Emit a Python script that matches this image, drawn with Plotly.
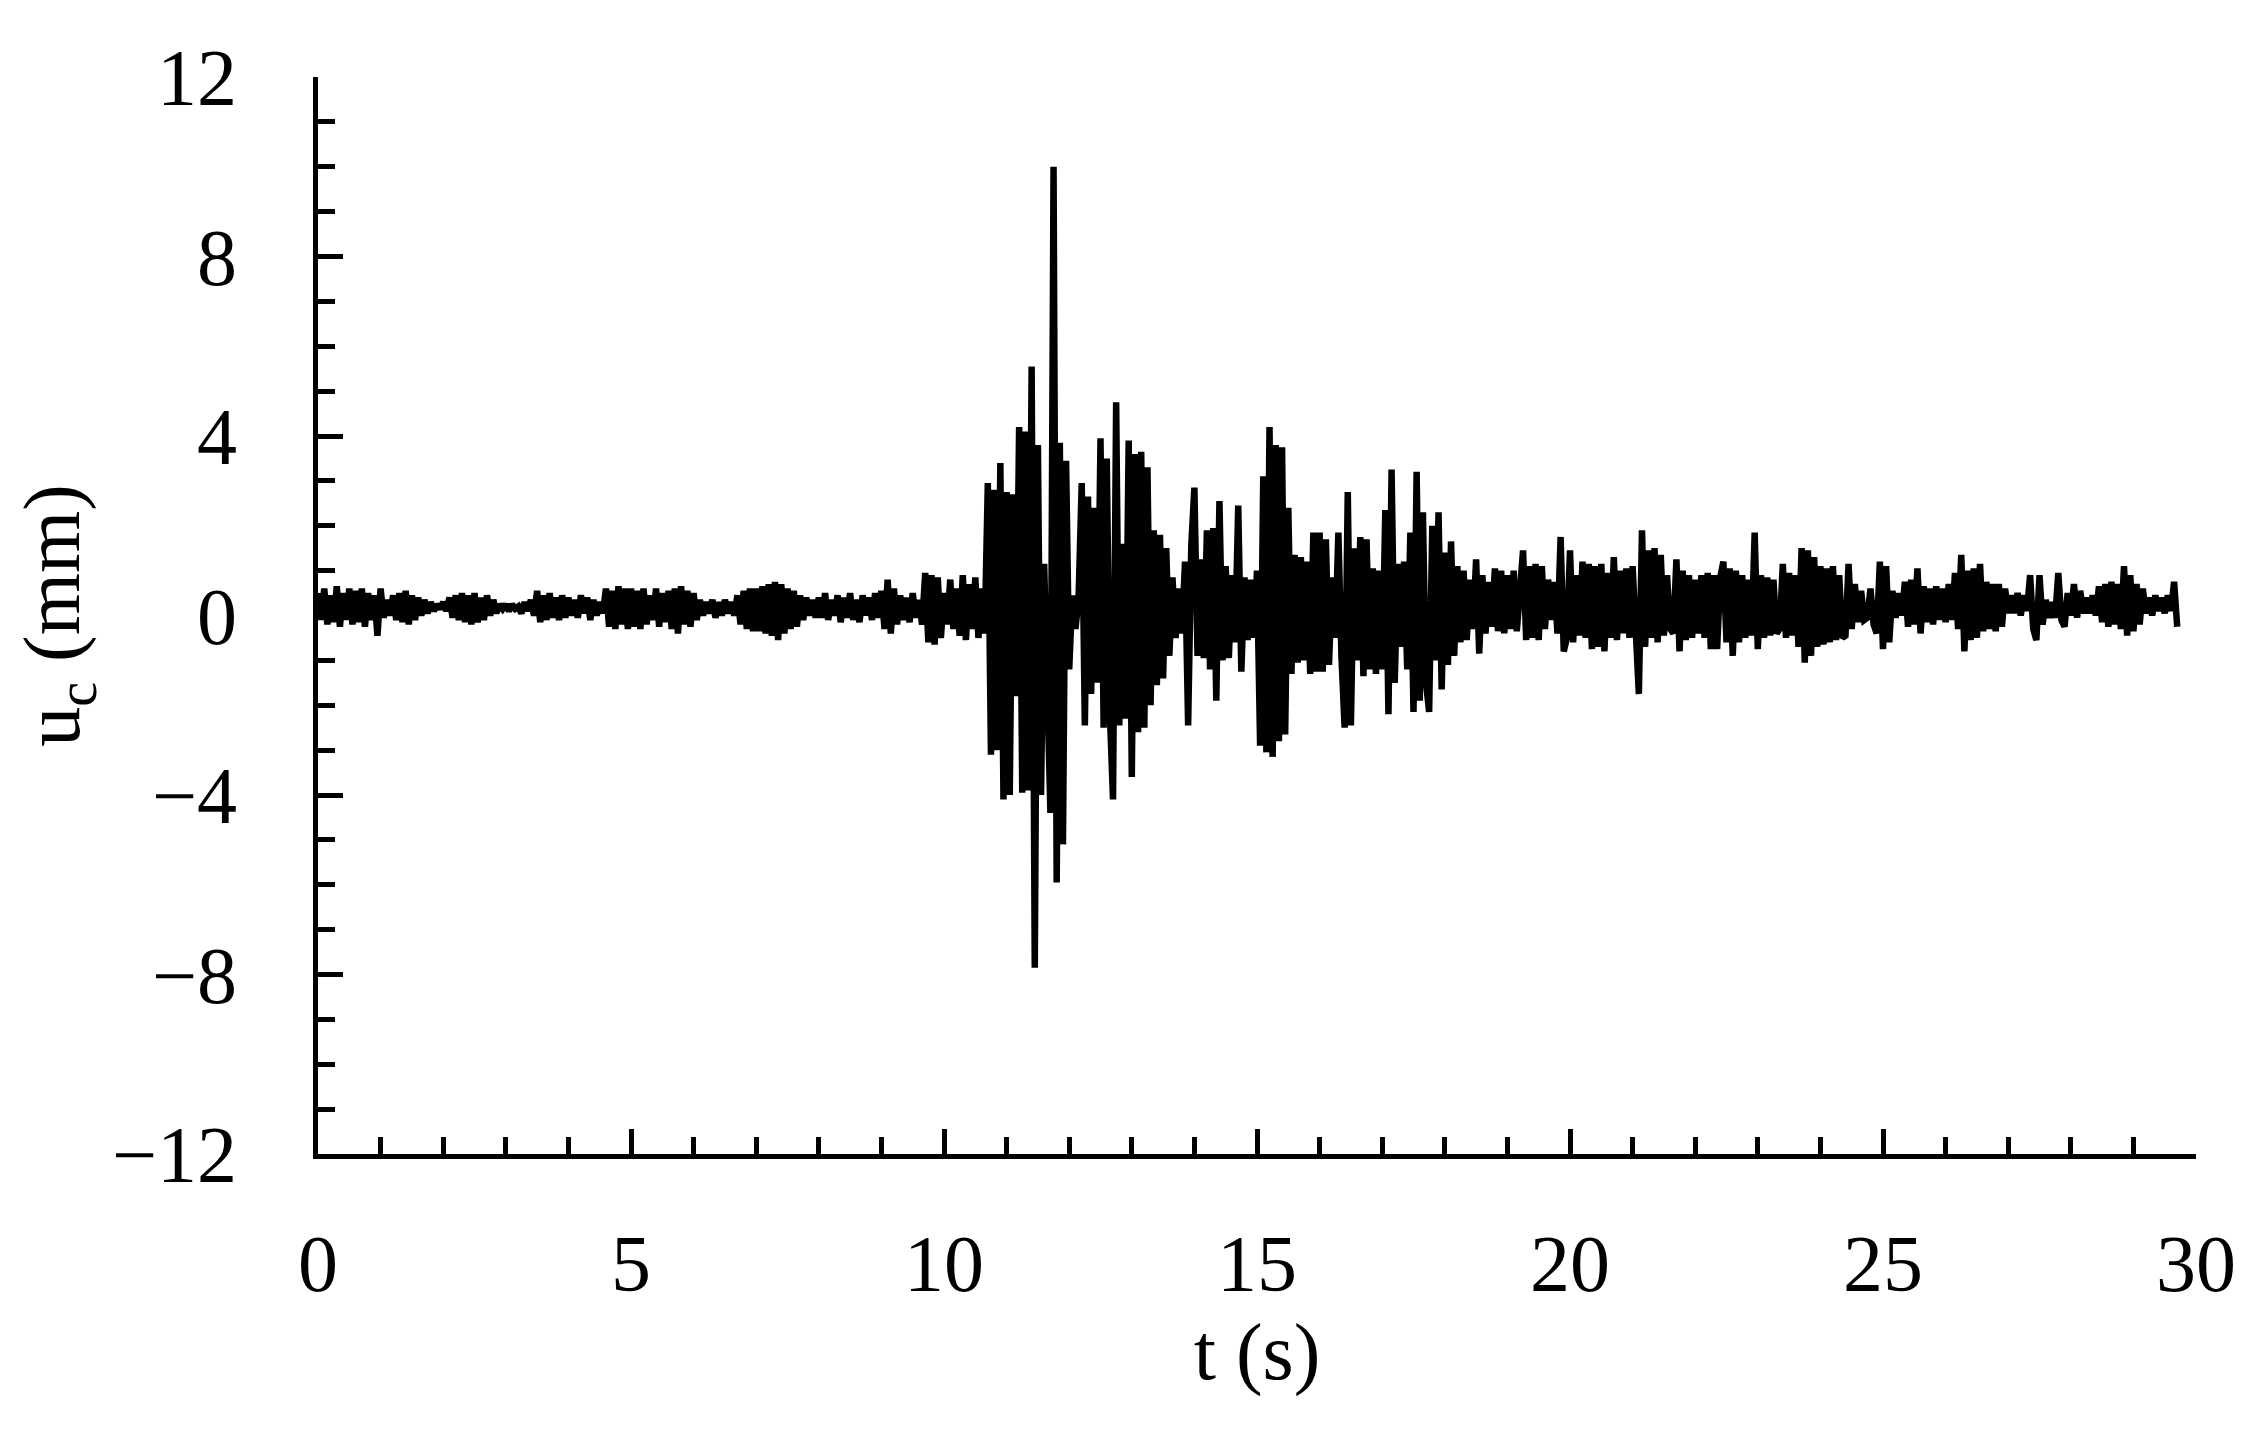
import plotly.graph_objects as go

# time step of the record (s)
DT = 0.05

# displacement u_c (mm), 5 s per block
U_00_05 = [
    0.5, -0.1, 0.6, -0.2, 0.45, -0.15, 0.65, -0.25, 0.5, -0.1, 0.6, -0.2, 0.55, -0.15, 0.6, -0.25, 0.5, -0.1, 0.45, -0.45,
    0.6, -0.05, 0.35, 0.0, 0.45, -0.1, 0.5, -0.15, 0.55, -0.2, 0.45, -0.1, 0.4, 0.0, 0.35, 0.05, 0.3, 0.1, 0.25, 0.15,
    0.3, 0.1, 0.4, -0.05, 0.45, -0.1, 0.5, -0.15, 0.45, -0.2, 0.5, -0.15, 0.4, -0.1, 0.45, 0.0, 0.35, 0.05, 0.25, 0.15,
    0.25, 0.1, 0.25, 0.15, 0.2, 0.05, 0.3, 0.1, 0.35, 0.0, 0.55, -0.15, 0.45, -0.1, 0.5, -0.05, 0.4, -0.1, 0.45, -0.05,
    0.4, 0.0, 0.35, -0.05, 0.45, 0.05, 0.4, -0.1, 0.35, 0.0, 0.3, 0.05, 0.6, -0.25, 0.55, -0.3, 0.65, -0.2, 0.6, -0.3,
]
U_05_10 = [
    0.6, -0.25, 0.55, -0.3, 0.6, -0.2, 0.45, -0.1, 0.6, -0.25, 0.5, -0.15, 0.55, -0.3, 0.6, -0.4, 0.65, -0.2, 0.55, -0.25,
    0.5, -0.1, 0.35, 0.0, 0.3, 0.05, 0.35, -0.05, 0.3, 0.0, 0.35, 0.05, 0.3, 0.0, 0.45, -0.2, 0.55, -0.3, 0.6, -0.35,
    0.6, -0.35, 0.65, -0.4, 0.7, -0.45, 0.75, -0.55, 0.7, -0.4, 0.6, -0.3, 0.55, -0.25, 0.45, -0.1, 0.4, 0.0, 0.35, -0.05,
    0.4, -0.05, 0.5, -0.1, 0.35, 0.0, 0.45, -0.15, 0.4, -0.05, 0.5, -0.1, 0.35, -0.15, 0.45, 0.0, 0.4, -0.1, 0.5, -0.05,
    0.55, -0.3, 0.8, -0.4, 0.6, -0.2, 0.45, -0.1, 0.4, -0.15, 0.5, -0.05, 0.35, -0.2, 0.95, -0.6, 0.9, -0.65, 0.85, -0.5,
]
U_10_15 = [
    0.5, -0.2, 0.8, -0.3, 0.6, -0.45, 0.9, -0.55, 0.7, -0.3, 0.85, -0.5, 0.6, -0.4, 2.95, -3.1, 2.8, -3.0, 3.4, -4.1,
    2.75, -4.0, 2.7, -1.8, 4.2, -3.95, 4.1, -3.9, 5.55, -7.85, 3.8, -4.0, 1.15, -1.45, -4.4, 10.0, -5.95, 3.85, -5.1, 3.45,
    -1.2, 0.45, -0.3, 0.4, 2.95, -2.45, 2.65, -1.75, 2.4, -1.5, 3.95, -2.5, 3.5, -2.2, -4.1, 4.75, -2.45, 1.6, -2.3, 3.9,
    -3.6, 3.6, -2.6, 3.65, -2.5, 3.3, -2.0, 1.9, -1.55, 1.8, -1.4, 1.5, -0.9, 0.85, -0.5, 0.6, -0.4, 1.2, -2.45, 1.55,
    2.85, -0.9, 1.25, -0.95, 1.9, -1.2, 1.95, -1.9, 2.55, -1.0, 1.1, -0.95, 0.9, -0.6, 2.45, -1.25, 0.85, -0.55, 0.8, -0.5,
]
U_15_20 = [
    1.0, -2.9, 3.1, -3.05, 4.2, -3.15, 3.8, -2.8, 3.75, -2.65, 2.4, -1.3, 1.35, -1.05, 1.3, -1.0, 1.2, -1.3, 1.85, -1.25,
    1.85, -1.25, 1.7, -1.1, 0.85, -0.5, 1.85, -0.95, -2.5, 2.75, -2.45, 1.5, -1.0, 1.75, -1.35, 1.7, -1.2, 1.05, -1.3, 1.0,
    -1.2, 2.35, -2.2, 3.25, -1.5, 1.15, -0.7, 1.2, -1.2, 1.85, -2.15, 3.2, -1.9, 2.3, -1.5, -2.15, 2.0, -1.0, 2.3, -1.65,
    1.4, -1.1, 1.65, -0.9, 1.1, -0.6, 1.0, -0.55, 0.8, -0.3, 1.25, -0.85, 0.9, -0.4, 0.75, -0.25, 1.05, -0.35, 1.0, -0.4,
    0.9, -0.3, 1.0, -0.35, 0.85, 1.45, -0.55, 1.1, -0.5, 1.15, -0.55, 1.1, -0.3, 0.8, -0.1, 0.75, -0.4, 1.75, -0.8, -0.5,
]
U_20_25 = [
    1.45, -0.6, 0.9, -0.45, 1.2, -0.5, 1.15, -0.75, 1.1, -0.7, 1.15, -0.8, 0.95, -0.5, 1.3, -0.55, 1.0, -0.4, 1.05, -0.5,
    1.1, -0.6, -1.75, 1.9, -0.7, 1.45, -0.5, 1.5, -0.6, 1.35, -0.45, 0.9, -0.3, -0.4, 1.25, -0.8, 1.0, -0.55, 0.9, -0.5,
    0.8, -0.4, 0.9, -0.5, 0.95, -0.75, 0.9, -0.75, 0.85, 1.2, -0.6, 1.05, -0.9, 1.0, -0.6, 0.9, -0.5, 0.8, -0.45, 1.85,
    -0.75, 0.9, -0.5, 0.85, -0.45, 0.8, -0.4, -0.3, 1.15, -0.5, 0.95, -0.45, 0.9, -0.7, 1.5, -1.05, 1.45, -0.9, 1.3, -0.7,
    1.1, -0.65, 1.05, -0.6, 1.1, -0.55, 0.9, -0.5, -0.45, 1.15, -0.3, 0.7, -0.15, 0.55, -0.1, -0.05, 0.6, -0.2, -0.4, 1.2,
]
U_25_30 = [
    -0.75, 1.1, -0.6, 0.55, -0.05, 0.5, 0.0, 0.75, -0.25, 0.8, -0.2, 1.05, -0.4, 0.65, -0.15, 0.6, -0.2, 0.65, -0.1, 0.6,
    -0.15, 0.7, -0.1, 0.95, -0.3, 1.35, -0.8, 1.0, -0.55, 1.05, -0.5, 1.15, -0.35, 0.75, -0.3, 0.7, -0.35, 0.7, -0.25, 0.6,
    0.05, 0.45, 0.05, 0.5, 0.0, 0.45, 0.1, 0.9, -0.3, -0.55, 0.9, -0.2, 0.35, -0.05, 0.3, -0.05, 0.95, -0.1, -0.25, 0.5,
    0.0, 0.7, -0.05, 0.55, 0.05, 0.4, 0.05, 0.45, 0.0, 0.65, -0.15, 0.7, -0.25, 0.75, -0.2, 0.7, -0.3, 1.1, -0.45, 0.9,
    -0.35, 0.7, -0.2, 0.6, 0.05, 0.4, 0.0, 0.45, 0.1, 0.4, 0.05, 0.45, 0.1, 0.75, -0.25,
]

X_TICKS = [0, 5, 10, 15, 20, 25, 30]
Y_TICKS = [-12, -8, -4, 0, 4, 8, 12]
Y_TICK_TEXT = ['\u221212', '\u22128', '\u22124', '0', '4', '8', '12']

u = U_00_05 + U_05_10 + U_10_15 + U_15_20 + U_20_25 + U_25_30
t = [round(i * DT, 2) for i in range(len(u))]

FONT = 'Liberation Serif, Times New Roman, serif'

fig = go.Figure()
fig.add_trace(
    go.Scatter(
        x=t,
        y=u,
        mode='lines',
        line={'color': 'black', 'width': 6.5},
        showlegend=False,
    )
)

minor_ticks = {'dtick': 1, 'ticks': 'inside', 'ticklen': 17, 'tickwidth': 4.5, 'tickcolor': 'black'}

axis_common = {
    'showline': True,
    'linecolor': 'black',
    'linewidth': 5,
    'showgrid': False,
    'zeroline': False,
    'ticks': 'inside',
    'ticklen': 25,
    'tickwidth': 4.5,
    'tickcolor': 'black',
    'tickfont': {'family': FONT, 'size': 80, 'color': 'black'},
    'mirror': False,
}

# the page body adds an 8 px offset, so the margins are shifted by that much
fig.update_layout(
    width=2265,
    height=1433,
    paper_bgcolor='white',
    plot_bgcolor='white',
    margin={'l': 310, 'r': 77, 't': 69, 'b': 287},
    font={'family': FONT, 'color': 'black'},
    xaxis={
        **axis_common,
        'range': [0, 30],
        'tickvals': X_TICKS,
        'ticklabelstandoff': 36,
        'minor': minor_ticks,
        'title': {'text': 't (s)', 'font': {'family': FONT, 'size': 80}, 'standoff': 6},
    },
    yaxis={
        **axis_common,
        'range': [-12, 12],
        'tickvals': Y_TICKS,
        'ticktext': Y_TICK_TEXT,
        'ticklabelstandoff': 60,
        'minor': minor_ticks,
        'title': {'text': 'u<sub>c</sub> (mm)', 'font': {'family': FONT, 'size': 80}, 'standoff': 20},
    },
)

fig.write_html('out.html')
